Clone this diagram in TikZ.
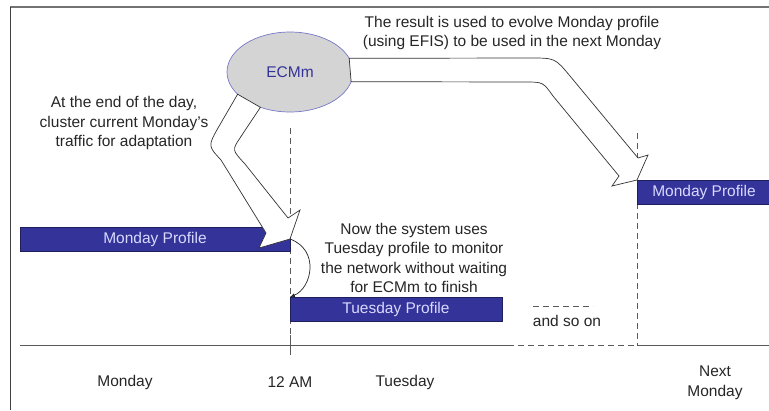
\documentclass[tikz,border=0pt]{standalone}
\usepackage{fontspec}
\setmainfont{Liberation Sans}
\usetikzlibrary{shapes.geometric}
\definecolor{profblue}{RGB}{51,51,153}
\definecolor{ecmgray}{RGB}{212,212,212}
\definecolor{ecmline}{RGB}{120,120,200}
\definecolor{guidegray}{RGB}{90,90,90}

\begin{document}
\begin{tikzpicture}[x=1pt,y=-1pt,
    every node/.style={font=\fontsize{15.5}{19.5}\selectfont, text=black!85},
    profile/.style={rectangle, draw=profblue!60!black, fill=profblue, text=white!85!blue,
        minimum height=24pt, inner sep=0pt, outer sep=0pt, anchor=north west, line width=0.6pt},
    fatarrow/.style={draw=black!80, fill=white, line width=0.7pt},
    guide/.style={draw=guidegray, dash pattern=on 6pt off 4pt, line width=0.8pt},
    note/.style={align=center}]
    \useasboundingbox[fill=white] (0,0) rectangle (769,410);
    \draw[black!55, line width=1.6pt] (10,7) -- (769,7);
    \draw[black!75, line width=1pt] (10,7) -- (10,410);

    \coordinate (ax0) at (20,345);
    \coordinate (ax1) at (508,345);
    \coordinate (ax2) at (637,345);
    \coordinate (ax3) at (769,345);
    \coordinate (mid0) at (290,128);
    \coordinate (mid1) at (290,335);
    \coordinate (mid2) at (290,355);
    \coordinate (nxt0) at (637,133);
    \coordinate (dots0) at (533,306);
    \coordinate (dots1) at (593,306);

    \draw[guide] (mid0) -- (mid1);
    \draw[guidegray, line width=0.8pt] (mid1) -- (mid2);
    \draw[guide] (nxt0) -- (ax2);
    \draw[guidegray, line width=0.8pt] (ax0) -- (ax1);
    \draw[guide] (ax1) -- (ax2);
    \draw[guidegray, line width=0.8pt] (ax2) -- (ax3);
    \draw[guide] (dots0) -- (dots1);

    \node[profile, minimum width=270pt] (mon) at (20,227) {Monday Profile};
    \node[profile, minimum width=212pt] (tue) at (290,297) {Tuesday Profile};
    \node[profile, minimum width=134pt] (nxt) at (637,180) {Monday Profile};

    \node[ellipse, draw=ecmline, fill=ecmgray, text=profblue, line width=0.7pt,
        minimum width=126pt, minimum height=80pt, outer sep=0pt] (ecm) at (290,72) {ECMm};

    \draw[fatarrow] (ecm.203) -- (218,128) .. controls (208,146) .. (221,160) -- (266,233)
        -- (259,248) -- (mon.east) -- (300,210) -- (288,218)
        -- (245,164) .. controls (232,150) .. (240,138) -- (ecm.230) -- cycle;
    \draw[fatarrow] (ecm.13) -- (530,58) .. controls (555,58) .. (570,76) -- (638,158)
        -- (648,155) -- (nxt.north west) -- (612,186) -- (619,176)
        -- (553,96) .. controls (543,82) .. (525,82) -- (ecm.-9) -- cycle;

    \draw[-latex, black!85, line width=0.7pt] (mon.east) .. controls (320,250) and (312,288) .. (tue.north west);

    \node[note] (result) at (512,33) {The result is used to evolve Monday profile\\(using EFIS) to be used in the next Monday};
    \node[note] (endday) at (124,123) {At the end of the day,\\cluster current Monday's\\traffic for adaptation};
    \node[note] (nowsys) at (414,258) {Now the system uses\\Tuesday profile to monitor\\the network without waiting\\for ECMm to finish};
    \node (soon) at (567,321) {and so on};

    \node (lmon) at (125,382) {Monday};
    \node (lmid) at (290,382) {12 AM};
    \node (ltue) at (405,382) {Tuesday};
    \node[note] (lnxt) at (715,383) {Next\\Monday};
\end{tikzpicture}
\end{document}
